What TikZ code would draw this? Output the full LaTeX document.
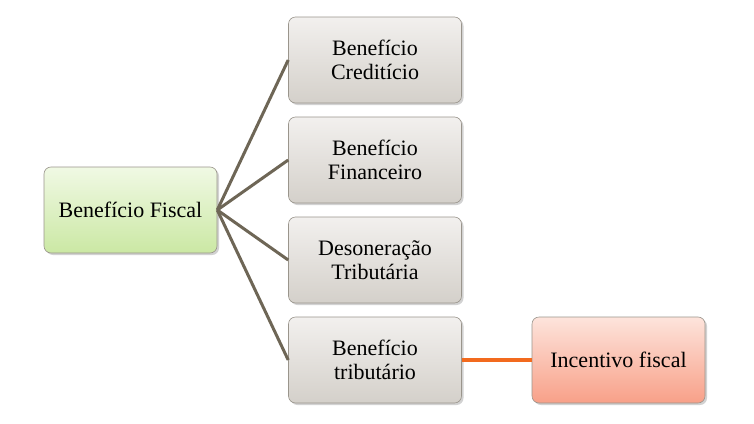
\documentclass[tikz,border=0pt]{standalone}
\usepackage{fontspec}
\setmainfont{Liberation Serif}
\usetikzlibrary{shadows}
\definecolor{gtop}{HTML}{F2F0EE}
\definecolor{gbot}{HTML}{D4D0CA}
\definecolor{ltop}{HTML}{F0F9E4}
\definecolor{lbot}{HTML}{CBE8A4}
\definecolor{rtop}{HTML}{FDE4DC}
\definecolor{rbot}{HTML}{F8A088}
\definecolor{conn}{HTML}{6E6656}
\definecolor{orng}{HTML}{F26A1E}
\definecolor{edge}{HTML}{9A958C}
\tikzset{
  x=1pt,y=-1pt,
  box/.style={draw=edge, line width=0.6pt, rounded corners=7pt, minimum width=173pt, minimum height=86pt,
    align=center, font=\fontsize{22}{23.5}\selectfont, inner sep=2pt,
    drop shadow={shadow xshift=2pt, shadow yshift=-2pt, opacity=0.35}},
  graybox/.style={box, top color=gtop, bottom color=gbot},
  greenbox/.style={box, top color=ltop, bottom color=lbot},
  redbox/.style={box, top color=rtop, bottom color=rbot},
  link/.style={draw=conn, line width=3pt},
  olink/.style={draw=orng, line width=4pt}
}
\begin{document}
\begin{tikzpicture}
\useasboundingbox[fill=white] (0,0) rectangle (754,423);
\node[greenbox] (root) at (130.5,210) {Benefício Fiscal};
\node[graybox] (b1) at (375,60) {Benefício\\Creditício};
\node[graybox] (b2) at (375,160) {Benefício\\Financeiro};
\node[graybox] (b3) at (375,260) {Desoneração\\Tributária};
\node[graybox] (b4) at (375,360) {Benefício\\tributário};
\node[redbox] (inc) at (618.5,360) {Incentivo fiscal};
\foreach \b in {b1,b2,b3,b4} \draw[link] (root.east) -- (\b.west);
\draw[olink] (b4.east) -- (inc.west);
\end{tikzpicture}
\end{document}
